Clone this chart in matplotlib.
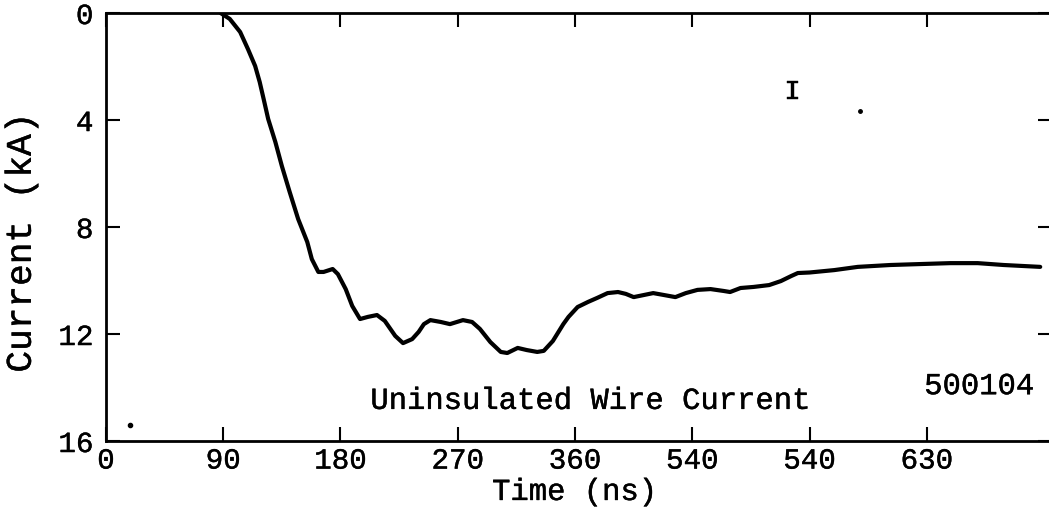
"""Uninsulated wire current trace (shot 500104), redrawn from the scanned figure."""
import matplotlib
matplotlib.use("Agg")
import matplotlib.pyplot as plt
import matplotlib.patheffects as pe

# Trace: time in ns, current magnitude in kA (axis runs downward)
TIME_NS = [88, 95, 103, 109, 114.5, 118, 121, 124.5, 130, 135, 141, 147.5,
           154.5, 158, 163, 167, 174, 178, 184, 189, 195, 201, 208, 214, 222,
           228, 235, 240, 244, 249, 257, 264, 274, 281, 287, 295, 303, 308,
           316, 323, 331, 336, 343, 351, 355, 362, 370, 377, 385, 393, 399,
           405, 413, 420, 428, 437, 445, 454, 464, 474, 479, 487, 497, 509,
           518, 526, 531, 540, 559, 577, 602, 628, 648, 669, 689, 717]
CURRENT_KA = [0.0, 0.22, 0.71, 1.35, 1.98, 2.58, 3.21, 3.96, 4.82, 5.72, 6.69,
              7.70, 8.56, 9.20, 9.68, 9.68, 9.57, 9.76, 10.32, 10.95, 11.44,
              11.36, 11.29, 11.51, 12.07, 12.34, 12.19, 11.92, 11.63, 11.48,
              11.55, 11.63, 11.48, 11.55, 11.81, 12.30, 12.67, 12.71, 12.52,
              12.60, 12.67, 12.63, 12.26, 11.63, 11.36, 10.99, 10.80, 10.65,
              10.47, 10.43, 10.50, 10.62, 10.54, 10.47, 10.54, 10.62, 10.47,
              10.35, 10.32, 10.39, 10.43, 10.28, 10.24, 10.17, 10.02, 9.83,
              9.72, 9.70, 9.61, 9.49, 9.42, 9.38, 9.35, 9.35, 9.42, 9.49]

X_TICKS = [0, 90, 180, 270, 360, 450, 540, 630]
X_TICK_LABELS = ["0", "90", "180", "270", "360", "540", "540", "630"]  # as printed
Y_TICKS = [0, 4, 8, 12, 16]

FONT = ["Liberation Mono", "DejaVu Sans Mono"]
INK = [pe.withStroke(linewidth=0.3, foreground="black")]  # typewriter-ish weight

plt.rcParams["font.family"] = FONT

fig = plt.figure(figsize=(10.49, 5.10), dpi=100)
ax = fig.add_axes([0.1010, 0.1333, 0.9018, 0.8392])

ax.plot(TIME_NS, CURRENT_KA, color="black", lw=3.0,
        solid_capstyle="round", solid_joinstyle="round")

ax.set_xlim(0, 726)
ax.set_ylim(16, 0)

ax.set_xticks(X_TICKS)
ax.set_xticklabels(X_TICK_LABELS)
ax.set_yticks(Y_TICKS)
ax.tick_params(axis="both", direction="in", length=10, width=1.5,
               top=True, right=True, labelsize=21, pad=4, colors="black")
ax.tick_params(axis="y", pad=9)
for lbl in ax.get_xticklabels() + ax.get_yticklabels():
    lbl.set_path_effects(INK)

for sp in ax.spines.values():
    sp.set_linewidth(2.0)

ax.set_xlabel("Time (ns)", fontsize=22, path_effects=INK)
ax.xaxis.set_label_coords(0.495, -0.084)
ax.set_ylabel("Current (kA)", fontsize=26, path_effects=INK)
ax.yaxis.set_label_coords(-0.071, 0.463)

# annotations on the original record
ax.text(527, 2.95, "I", fontsize=20, ha="center", va="center", path_effects=INK)
ax.text(371, 14.5, "Uninsulated Wire Current", fontsize=22, ha="center",
        va="center", path_effects=INK)
ax.text(670, 13.95, "500104", fontsize=22, ha="center", va="center", path_effects=INK)
ax.plot([579], [3.66], marker="o", ms=2.5, color="black")
ax.plot([18.4], [15.4], marker="o", ms=3, color="black")

fig.savefig("out.png", dpi=100)
